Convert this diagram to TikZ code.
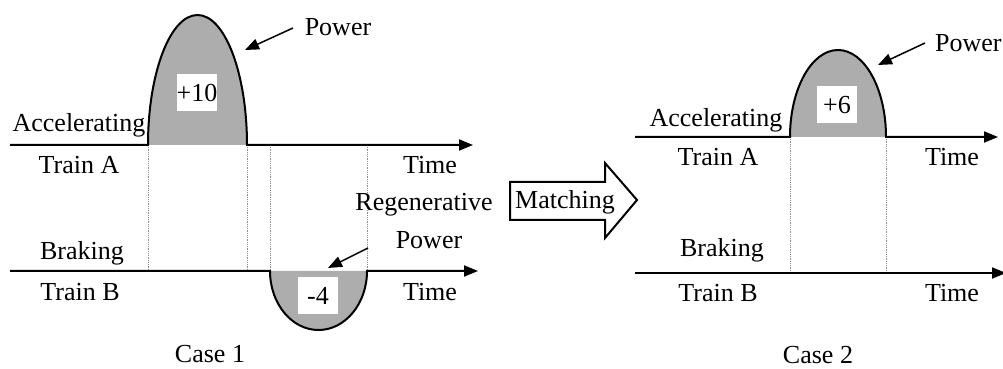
\documentclass[tikz,border=0pt]{standalone}
\usepackage{fontspec}
\setmainfont{Liberation Serif}
\usetikzlibrary{arrows.meta}
\begin{document}
\begin{tikzpicture}[x=1pt,y=1pt,
  lbl/.style={font=\fontsize{26}{28}\selectfont, inner sep=0pt},
  axisline/.style={line width=2pt, -{Triangle[length=14pt,width=11pt]}},
  bumpfill/.style={fill=black!32},
  guide/.style={densely dotted, black!45, line width=0.8pt},
  ptr/.style={line width=1.5pt, -{Triangle[length=14pt,width=11pt]}},
  valbox/.style={lbl, fill=white, minimum width=40pt, minimum height=37pt},
  matcharrow/.style={draw, line width=2pt, fill=white, line join=miter}]
\useasboundingbox (0,0) rectangle (1003,369);
% ---------- Case 1 ----------
\coordinate (a1s) at (10,224);
\coordinate (a1b) at (148,224);
\coordinate (a1c) at (247,224);
\coordinate (a1e) at (473,224);
\coordinate (b1s) at (10,98);
\coordinate (b1b) at (270,98);
\coordinate (b1c) at (367,98);
\coordinate (b1e) at (478,98);
\fill[bumpfill] (a1b) arc[start angle=180, end angle=0, x radius=49.5, y radius=130] -- cycle;
\fill[bumpfill] (b1b) arc[start angle=180, end angle=360, x radius=48.5, y radius=59] -- cycle;
\draw[guide] (a1b) -- (148,98);
\draw[guide] (a1c) -- (247,98);
\draw[guide] (270,224) -- (b1b);
\draw[guide] (367,224) -- (b1c);
\draw[axisline] (a1s) -- (a1b) arc[start angle=180, end angle=0, x radius=49.5, y radius=130] -- (a1e);
\draw[axisline] (b1s) -- (b1b) arc[start angle=180, end angle=360, x radius=48.5, y radius=59] -- (b1e);
\node[valbox] (v10) at (197,276) {+10};
\node[valbox] (v4) at (318,73) {-4};
\node[lbl] (pow1) at (338,342) {Power};
\coordinate (pow1t) at (245,319);
\draw[ptr] (293,341) -- (pow1t);
\node[lbl] (acc1) at (79,244) {Accelerating};
\node[lbl] (tra1) at (79,204) {Train A};
\node[lbl] (tim1) at (430,204) {Time};
\node[lbl] (reg1) at (424,164) {Regenerative};
\node[lbl] (rpow1) at (429,129) {Power};
\coordinate (rpow1t) at (328,101);
\draw[ptr] (368,121) -- (rpow1t);
\node[lbl] (brk1) at (82,116) {Braking};
\node[lbl] (trb1) at (80,77) {Train B};
\node[lbl] (timb1) at (430,77) {Time};
\node[lbl] (case1) at (210,15) {Case 1};
% ---------- Matching arrow ----------
\draw[matcharrow] (510,187) -- (605,187) -- (605,206) -- (637,169) -- (605,131) -- (605,149) -- (510,149) -- cycle;
\node[lbl] (match) at (565,167) {Matching};
% ---------- Case 2 ----------
\coordinate (a2s) at (635,232);
\coordinate (a2b) at (790,232);
\coordinate (a2c) at (886,232);
\coordinate (a2e) at (998,232);
\coordinate (b2s) at (635,96);
\coordinate (b2e) at (1006,96);
\fill[bumpfill] (a2b) arc[start angle=180, end angle=0, x radius=48, y radius=87] -- cycle;
\draw[guide] (a2b) -- (790,96);
\draw[guide] (a2c) -- (886,96);
\draw[axisline] (a2s) -- (a2b) arc[start angle=180, end angle=0, x radius=48, y radius=87] -- (a2e);
\draw[axisline] (b2s) -- (b2e);
\node[valbox] (v6) at (837,264) {+6};
\node[lbl, anchor=west] (pow2) at (935,326) {Power};
\coordinate (pow2t) at (878,304);
\draw[ptr] (925,326) -- (pow2t);
\node[lbl] (acc2) at (716,249) {Accelerating};
\node[lbl] (tra2) at (718,212) {Train A};
\node[lbl] (tim2) at (952,212) {Time};
\node[lbl] (brk2) at (722,119) {Braking};
\node[lbl] (trb2) at (718,76) {Train B};
\node[lbl] (timb2) at (952,76) {Time};
\node[lbl] (case2) at (818,14) {Case 2};
\end{tikzpicture}
\end{document}
